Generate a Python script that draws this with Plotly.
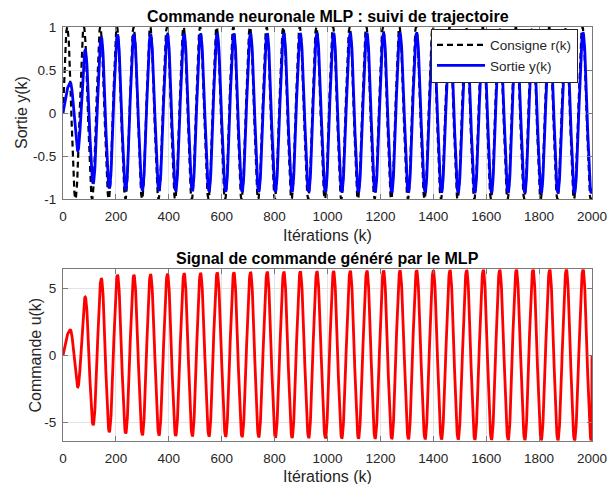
import numpy as np
import plotly.graph_objects as go

# ---------------------------------------------------------------------------
# Simulation record (turning points of each signal, iteration index k)
# ---------------------------------------------------------------------------
N_ITER = 2000

# Setpoint r(k): alternate maxima / minima
r_ext_k = [16, 47, 79, 110, 141, 173, 204, 236, 267, 299, 330, 361, 393, 424,
           456, 487, 518, 550, 581, 613, 644, 675, 707, 738, 770, 801, 833, 864,
           895, 927, 958, 990, 1021, 1052, 1084, 1115, 1147, 1178, 1210, 1241,
           1272, 1304, 1335, 1367, 1398, 1429, 1461, 1492, 1524, 1555, 1587, 1618,
           1649, 1681, 1712, 1744, 1775, 1806, 1838, 1869, 1901, 1932, 1964, 1995]
r_peaks = [1.0] * 32
r_troughs = [-1.0] * 32

# Plant output y(k) and MLP command u(k) share the same turning instants
y_ext_k = [28, 56, 84, 114, 145, 175, 206, 237, 268, 300, 331, 363, 395, 426,
           458, 489, 520, 552, 583, 615, 646, 677, 709, 740, 772, 803, 835, 866,
           897, 929, 960, 992, 1023, 1054, 1086, 1117, 1149, 1180, 1212, 1243,
           1274, 1306, 1337, 1369, 1400, 1431, 1463, 1494, 1526, 1557, 1589, 1620,
           1651, 1683, 1714, 1746, 1777, 1808, 1840, 1871, 1903, 1934, 1966, 1997]
y_peaks = [0.35, 0.73, 0.88, 0.91, 0.915, 0.915, 0.918, 0.92, 0.92, 0.922,
           0.922, 0.924, 0.925, 0.925, 0.926, 0.927, 0.928, 0.928, 0.929, 0.93,
           0.93, 0.931, 0.931, 0.932, 0.932, 0.933, 0.933, 0.934, 0.934, 0.935,
           0.935, 0.936]
y_troughs = [-0.44, -0.82, -0.876, -0.895, -0.90, -0.90, -0.905, -0.907, -0.91,
             -0.912, -0.913, -0.915, -0.916, -0.917, -0.918, -0.919, -0.92,
             -0.921, -0.922, -0.923, -0.924, -0.925, -0.925, -0.926, -0.927,
             -0.928, -0.928, -0.929, -0.93, -0.93, -0.931, -0.932]

u_peaks = [1.89, 4.35, 5.75, 6.0, 6.0, 6.04, 6.08, 6.12, 6.15, 6.17, 6.19, 6.21,
           6.23, 6.24, 6.26, 6.27, 6.28, 6.3, 6.31, 6.32, 6.33, 6.34, 6.35, 6.36,
           6.37, 6.38, 6.39, 6.39, 6.4, 6.41, 6.42, 6.42]
u_troughs = [-2.36, -5.2, -5.72, -5.82, -5.95, -5.97, -6.0, -6.03, -6.05, -6.07,
             -6.09, -6.11, -6.13, -6.15, -6.17, -6.18, -6.2, -6.21, -6.22, -6.24,
             -6.25, -6.26, -6.27, -6.28, -6.29, -6.3, -6.31, -6.32, -6.33, -6.34,
             -6.35, -6.37]
u_last = 0.0  # last command sample is left at zero

x_ticks = [0, 200, 400, 600, 800, 1000, 1200, 1400, 1600, 1800, 2000]
y_ticks_top = [-1, -0.5, 0, 0.5, 1]
y_ticks_bot = [-5, 0, 5]


def interleave(a, b):
    out = []
    for p, q in zip(a, b):
        out += [p, q]
    return out


def signal_from_turning_points(k, ext_k, ext_v):
    """Rebuild a smooth oscillation passing through its turning points."""
    out = np.zeros_like(k, dtype=float)
    # rise from rest to the first turning point
    m = k <= ext_k[0]
    out[m] = ext_v[0] * np.sin(0.5 * np.pi * k[m] / ext_k[0])
    for i in range(len(ext_k) - 1):
        k0, k1 = ext_k[i], ext_k[i + 1]
        v0, v1 = ext_v[i], ext_v[i + 1]
        m = (k > k0) & (k <= k1)
        t = (k[m] - k0) / (k1 - k0)
        out[m] = v0 + (v1 - v0) * (1 - np.cos(np.pi * t)) / 2
    # continue the last half-swing up to the end of the run
    k0, v0 = ext_k[-1], ext_v[-1]
    span = ext_k[-1] - ext_k[-2]
    m = k > k0
    t = (k[m] - k0) / span
    out[m] = v0 + (ext_v[-2] - v0) * (1 - np.cos(np.pi * t)) / 2
    return out


k = np.arange(0, N_ITER + 1)
r = signal_from_turning_points(k, r_ext_k, interleave(r_peaks, r_troughs))
y = signal_from_turning_points(k, y_ext_k, interleave(y_peaks, y_troughs))
u = signal_from_turning_points(k, y_ext_k, interleave(u_peaks, u_troughs))
u[-1] = u_last

# ---------------------------------------------------------------------------
# Figure
# ---------------------------------------------------------------------------
W, H = 608, 484
FONT = "Liberation Sans, Arial, Helvetica, sans-serif"
TXT = "#262626"
FRAME = "#7a7a7a"
GRID = "#e3e3e3"

fig = go.Figure()
fig.add_trace(go.Scatter(x=k, y=r, mode="lines", name="Consigne r(k)",
                         line=dict(color="black", width=2.2, dash="6px,4px"),
                         xaxis="x", yaxis="y"))
fig.add_trace(go.Scatter(x=k, y=y, mode="lines", name="Sortie y(k)",
                         line=dict(color="#0000ff", width=2.8),
                         xaxis="x", yaxis="y"))
fig.add_trace(go.Scatter(x=k, y=u, mode="lines", name="u(k)", showlegend=False,
                         line=dict(color="#ff0000", width=2.8),
                         xaxis="x2", yaxis="y2"))

x_dom = [63 / W, 592 / W]
top_dom = [1 - 199 / H, 1 - 27 / H]
bot_dom = [1 - 440.7 / H, 1 - 269.3 / H]

axis_common = dict(
    showline=True, linecolor=FRAME, linewidth=1, mirror="ticks",
    ticks="inside", ticklen=5, tickcolor=FRAME,
    showgrid=True, gridcolor=GRID, gridwidth=1, zeroline=False,
    tickfont=dict(family=FONT, size=13.5, color=TXT),
)

fig.update_layout(
    width=W, height=H,
    margin=dict(l=0, r=0, t=0, b=0, autoexpand=False),
    paper_bgcolor="white", plot_bgcolor="white",
    font=dict(family=FONT, color=TXT),
    xaxis=dict(domain=x_dom, anchor="y", range=[0, N_ITER],
               tickvals=x_ticks, ticktext=[str(v) for v in x_ticks],
               ticklabelstandoff=5, **axis_common),
    yaxis=dict(domain=top_dom, anchor="x", range=[-1, 1],
               tickvals=y_ticks_top, ticktext=["-1", "-0.5", "0", "0.5", "1"],
               ticklabelstandoff=3, **axis_common),
    xaxis2=dict(domain=x_dom, anchor="y2", range=[0, N_ITER],
                tickvals=x_ticks, ticktext=[str(v) for v in x_ticks],
                ticklabelstandoff=5, **axis_common),
    yaxis2=dict(domain=bot_dom, anchor="x2", range=[float(u.min()), float(u.max())],
                tickvals=y_ticks_bot, ticktext=["-5", "0", "5"],
                ticklabelstandoff=3, **axis_common),
    showlegend=True,
    legend=dict(x=578 / W, y=1 - 55.5 / H, xanchor="right", yanchor="middle",
                bgcolor="white", bordercolor="#262626", borderwidth=1,
                font=dict(family=FONT, size=13.5, color=TXT),
                itemwidth=48, tracegroupgap=0),
)

cx = (x_dom[0] + x_dom[1]) / 2


def label(text, x, y, size, bold=False, angle=0):
    fig.add_annotation(text=f"<b>{text}</b>" if bold else text,
                       x=x, y=y, xref="paper", yref="paper",
                       xanchor="center", yanchor="middle", showarrow=False,
                       textangle=angle,
                       font=dict(family=FONT, size=size, color="black" if bold else TXT))


label("Commande neuronale MLP : suivi de trajectoire", cx, 1 - 16 / H, 16, bold=True)
label("Signal de commande généré par le MLP", cx, 1 - 258.5 / H, 16, bold=True)
label("Itérations (k)", cx, 1 - 236 / H, 16)
label("Itérations (k)", cx, 1 - 476 / H, 16)
label("Sortie y(k)", 21 / W, (top_dom[0] + top_dom[1]) / 2, 16, angle=-90)
label("Commande u(k)", 34.5 / W, (bot_dom[0] + bot_dom[1]) / 2, 16, angle=-90)

fig.write_html("out.html")
